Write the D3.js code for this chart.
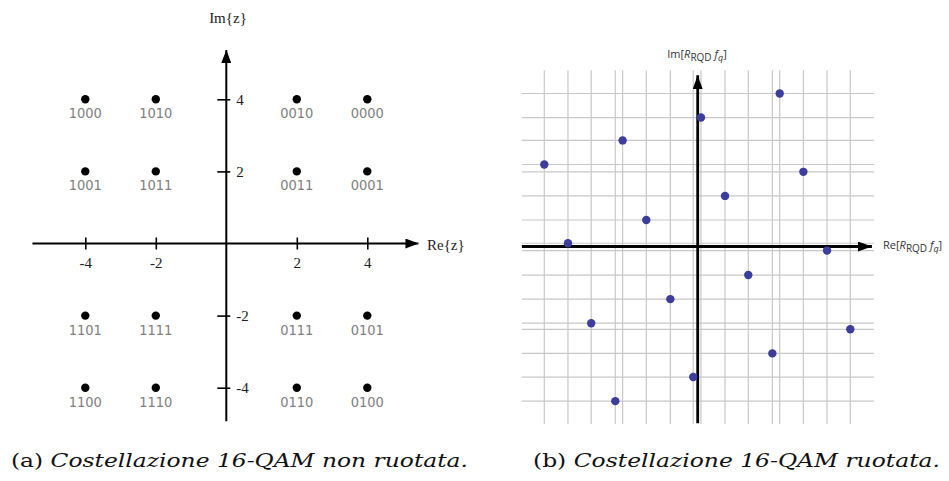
<!DOCTYPE html>
<html>
<head>
<meta charset="utf-8">
<script src="https://cdn.jsdelivr.net/npm/d3@7"></script>
<style>
  html, body { margin: 0; padding: 0; background: #fff; }
  svg { display: block; }
</style>
</head>
<body>
<svg id="chart" width="949" height="481"></svg>
<script>
// ---- Panel (a): square 16-QAM constellation with Gray labels ----
const qamRe = [-4, -2, 2, 4];
const qamIm = [4, 2, -2, -4];
const qamLabels = [
  ["1000", "1010", "0010", "0000"],
  ["1001", "1011", "0011", "0001"],
  ["1101", "1111", "0111", "0101"],
  ["1100", "1110", "0110", "0100"]
];
const axisTicksA = [-4, -2, 2, 4];

// ---- Panel (b): rotated 16-QAM constellation (grid units) ----
const rotRe = [2.01, 0.08, -1.84, -3.76, 2.59, 0.67, -1.26, -3.18,
               3.17, 1.24, -0.67, -2.61, 3.74, 1.83, -0.11, -2.02];
const rotIm = [3.75, 3.16, 2.60, 2.01, 1.83, 1.24, 0.65, 0.08,
               -0.10, -0.70, -1.29, -1.88, -2.03, -2.62, -3.20, -3.79];

const svg = d3.select("#chart");

// arrowhead markers
const defs = svg.append("defs");
function arrow(id, w, h) {
  defs.append("marker")
    .attr("id", id)
    .attr("viewBox", `0 0 ${w} ${h}`)
    .attr("refX", w).attr("refY", h / 2)
    .attr("markerWidth", w).attr("markerHeight", h)
    .attr("markerUnits", "userSpaceOnUse")
    .attr("orient", "auto")
    .append("path")
    .attr("d", `M0,0 L${w},${h / 2} L0,${h} Z`)
    .attr("fill", "#000");
}
arrow("arrA", 13, 10);
arrow("arrB", 14, 10);
defs.append("filter").attr("id", "soft")
  .append("feGaussianBlur").attr("stdDeviation", 0.6);

// ================= Panel (a) =================
const xA = d3.scaleLinear().domain([-4, 4]).range([85.3, 367.3]);
const yA = d3.scaleLinear().domain([-4, 4]).range([387.7, 99.3]);
const gA = svg.append("g");
const plain = d => String(d);

// axes with arrows
gA.append("line")
  .attr("x1", xA(-5.5)).attr("x2", xA(5.45))
  .attr("y1", yA(0)).attr("y2", yA(0))
  .attr("stroke", "#000").attr("stroke-width", 2)
  .attr("marker-end", "url(#arrA)");
gA.append("line")
  .attr("x1", xA(0)).attr("x2", xA(0))
  .attr("y1", yA(-4.93)).attr("y2", yA(5.37))
  .attr("stroke", "#000").attr("stroke-width", 2)
  .attr("marker-end", "url(#arrA)");

// x axis ticks and labels
const axA = gA.append("g")
  .attr("transform", `translate(0,${yA(0)})`)
  .call(d3.axisBottom(xA).tickValues(axisTicksA).tickSize(6).tickPadding(8)
        .tickFormat(plain));
axA.select(".domain").remove();
axA.selectAll(".tick line").attr("y1", -6).attr("y2", 6).attr("stroke-width", 1.6);
axA.selectAll(".tick text")
  .attr("font-family", "'Liberation Serif', serif").attr("font-size", 15)
  .attr("fill", "#222");

// y axis ticks and labels
const ayA = gA.append("g")
  .attr("transform", `translate(${xA(0)},0)`)
  .call(d3.axisRight(yA).tickValues(axisTicksA).tickSize(6).tickPadding(4)
        .tickFormat(plain));
ayA.select(".domain").remove();
ayA.selectAll(".tick line").attr("x1", -9).attr("x2", 4).attr("stroke-width", 1.6);
ayA.selectAll(".tick text")
  .attr("font-family", "'Liberation Serif', serif").attr("font-size", 15)
  .attr("fill", "#222");

// axis names
gA.append("text").attr("x", 228).attr("y", 23)
  .attr("text-anchor", "middle")
  .attr("font-family", "'Liberation Serif', serif").attr("font-size", 15)
  .attr("fill", "#222").text("Im{z}");
gA.append("text").attr("x", 427).attr("y", 250)
  .attr("font-family", "'Liberation Serif', serif").attr("font-size", 15)
  .attr("fill", "#222").text("Re{z}");

// symbols and bit labels
const ptsA = [];
qamIm.forEach((im, r) => qamRe.forEach((re, c) =>
  ptsA.push({ re, im, label: qamLabels[r][c] })));

gA.selectAll("circle.pt").data(ptsA).join("circle")
  .attr("class", "pt")
  .attr("cx", d => xA(d.re)).attr("cy", d => yA(d.im))
  .attr("r", 4.2).attr("fill", "#000");
gA.selectAll("text.lbl").data(ptsA).join("text")
  .attr("class", "lbl")
  .attr("x", d => xA(d.re)).attr("y", d => yA(d.im) + 19)
  .attr("text-anchor", "middle")
  .attr("font-family", "'DejaVu Sans Condensed', 'DejaVu Sans', sans-serif")
  .attr("font-size", 14.5)
  .attr("fill", "#808080")
  .text(d => d.label);

// ================= Panel (b) =================
const unitB = 40.8;
const xB = d3.scaleLinear().domain([-1, 1]).range([697.7 - unitB, 697.7 + unitB]);
const yB = d3.scaleLinear().domain([-1, 1]).range([246.5 + unitB, 246.5 - unitB]);
const ptsB = rotRe.map((re, i) => ({ re, im: rotIm[i] }));
const gB = svg.append("g").attr("filter", "url(#soft)");

// grid: one line through every symbol coordinate
gB.append("g").selectAll("line").data(ptsB).join("line")
  .attr("x1", d => xB(d.re)).attr("x2", d => xB(d.re))
  .attr("y1", yB(4.32)).attr("y2", yB(-4.35))
  .attr("stroke", "#c8c8c8").attr("stroke-width", 1.2);
gB.append("g").selectAll("line").data(ptsB).join("line")
  .attr("y1", d => yB(d.im)).attr("y2", d => yB(d.im))
  .attr("x1", xB(-4.31)).attr("x2", xB(4.32))
  .attr("stroke", "#c8c8c8").attr("stroke-width", 1.2);

// axes with arrows
gB.append("line")
  .attr("x1", xB(-4.31)).attr("x2", xB(4.27))
  .attr("y1", yB(0)).attr("y2", yB(0))
  .attr("stroke", "#000").attr("stroke-width", 2.8)
  .attr("marker-end", "url(#arrB)");
gB.append("line")
  .attr("x1", xB(0)).attr("x2", xB(0))
  .attr("y1", yB(-4.33)).attr("y2", yB(4.2))
  .attr("stroke", "#000").attr("stroke-width", 2.8)
  .attr("marker-end", "url(#arrB)");

// symbols
gB.selectAll("circle").data(ptsB).join("circle")
  .attr("cx", d => xB(d.re)).attr("cy", d => yB(d.im))
  .attr("r", 4.2).attr("fill", "#3c3c9c");

// axis names
function rqdLabel(g, x, y, part, anchor) {
  const t = g.append("text").attr("x", x).attr("y", y)
    .attr("text-anchor", anchor)
    .attr("font-family", "'Open Sans', 'DejaVu Sans', sans-serif")
    .attr("font-size", 11).attr("fill", "#333");
  t.append("tspan").text(part + "[");
  t.append("tspan").attr("font-style", "italic").text("R");
  t.append("tspan").attr("dy", 3).attr("font-size", 10).text("RQD");
  t.append("tspan").attr("dy", -3).text(" ");
  t.append("tspan").attr("font-style", "italic").text("f");
  t.append("tspan").attr("dy", 3).attr("font-size", 9).attr("font-style", "italic").text("q");
  t.append("tspan").attr("dy", -3).text("]");
}
rqdLabel(svg, 697, 58, "Im", "middle");
rqdLabel(svg, 883, 249, "Re", "start");

// ================= Captions =================
function caption(x, width, tag, body) {
  const t = svg.append("text").attr("x", x).attr("y", 467)
    .attr("font-family", "'DejaVu Serif', serif")
    .attr("font-size", 18.5).attr("fill", "#111")
    .attr("textLength", width).attr("lengthAdjust", "spacingAndGlyphs");
  t.append("tspan").text(tag + " ");
  t.append("tspan").attr("font-style", "italic").text(body);
  return t;
}
caption(11, 457, "(a)", "Costellazione 16-QAM non ruotata.");
caption(533, 407, "(b)", "Costellazione 16-QAM ruotata.");
</script>
</body>
</html>
